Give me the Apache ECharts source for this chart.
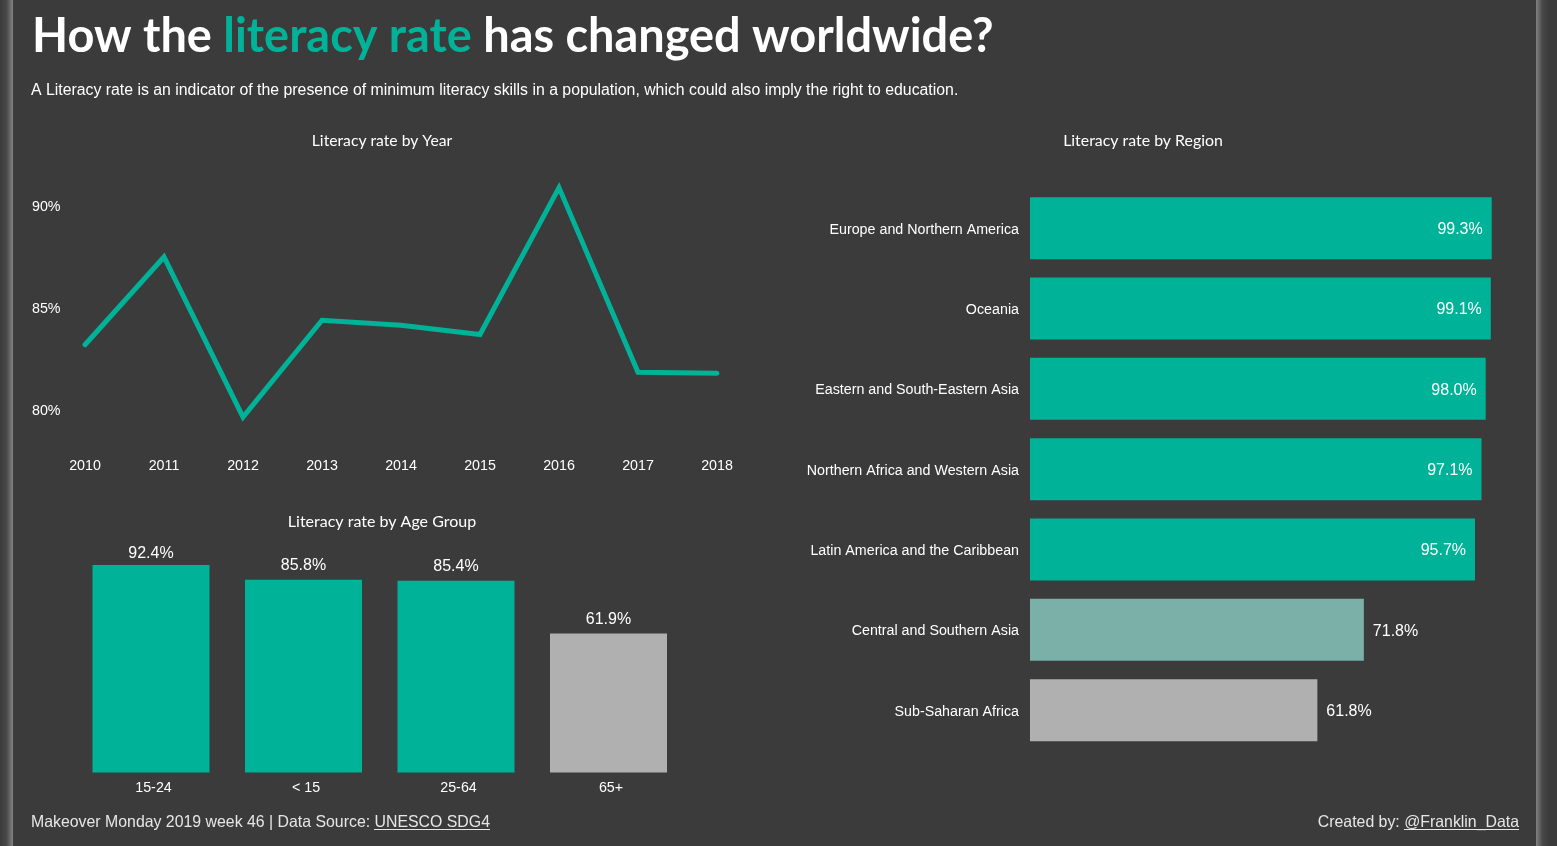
<!DOCTYPE html>
<html><head><meta charset="utf-8">
<style>html,body{margin:0;padding:0;background:#3b3b3b;overflow:hidden}#c{width:1557px;height:846px}</style>
<script src="https://cdn.jsdelivr.net/npm/echarts@6/dist/echarts.min.js"></script>
</head><body><div id="c"></div>
<script>
const years=['2010','2011','2012','2013','2014','2015','2016','2017','2018'];
const yearRates=[83.2,87.5,79.65,84.4,84.15,83.7,90.9,81.85,81.8];
const yearTicks=[80,85,90];
const ageGroups=['15-24','< 15','25-64','65+'];
const ageRates=[92.4,85.8,85.4,61.9];
const regions=['Europe and Northern America','Oceania','Eastern and South-Eastern Asia','Northern Africa and Western Asia','Latin America and the Caribbean','Central and Southern Asia','Sub-Saharan Africa'];
const regionRates=[99.3,99.1,98.0,97.1,95.7,71.8,61.8];
const TEAL='#00b398',GREY='#b0b0b0',MID='#7ab0a7';
const SANS='"Liberation Sans",Arial,sans-serif',HEAD='"Lato","Open Sans",sans-serif';
const ageColor=v=>v<70?GREY:TEAL;
const regionColor=v=>v<65?GREY:(v<80?MID:TEAL);
const edgeL={type:'rect',silent:true,shape:{x:0,y:0,width:13,height:846},style:{fill:new echarts.graphic.LinearGradient(0,0,1,0,[{offset:0,color:'#3b3b3b'},{offset:0.5,color:'#484848'},{offset:1,color:'#828282'}])}};
const edgeR={type:'rect',silent:true,shape:{x:1536,y:0,width:13,height:846},style:{fill:new echarts.graphic.LinearGradient(0,0,1,0,[{offset:0,color:'#828282'},{offset:0.5,color:'#484848'},{offset:1,color:'#3b3b3b'}])}};
const chart=echarts.init(document.getElementById('c'),null,{renderer:'canvas'});
const tt=(o)=>Object.assign({padding:0},o);
chart.setOption({
 animation:false,backgroundColor:'#3b3b3b',
 title:[
  tt({left:32,top:13,text:'{w|How the }{g|literacy rate}{w| has changed worldwide?}',textStyle:{rich:{w:{fontFamily:HEAD,fontWeight:700,fontSize:46.9,color:'#fff'},g:{fontFamily:HEAD,fontWeight:700,fontSize:46.9,color:TEAL}}}}),
  tt({left:31,top:83,text:'A Literacy rate is an indicator of the presence of minimum literacy skills in a population, which could also imply the right to education.',textStyle:{fontFamily:SANS,fontWeight:400,fontSize:15.83,color:'#fff'}}),
  tt({left:382,top:132.5,textAlign:'center',text:'Literacy rate by Year',textStyle:{fontFamily:HEAD,fontWeight:400,fontSize:15.7,color:'#fff'}}),
  tt({left:1143,top:132.5,textAlign:'center',text:'Literacy rate by Region',textStyle:{fontFamily:HEAD,fontWeight:400,fontSize:15.9,color:'#fff'}}),
  tt({left:382,top:513.5,textAlign:'center',text:'Literacy rate by Age Group',textStyle:{fontFamily:HEAD,fontWeight:400,fontSize:16,color:'#fff'}}),
  tt({left:31,top:815,text:'Makeover Monday 2019 week 46 | Data Source: UNESCO SDG4',textStyle:{fontFamily:SANS,fontWeight:400,fontSize:15.86,color:'#e6e6e6'}}),
  tt({right:38,top:815,text:'Created by: @Franklin_Data',textStyle:{fontFamily:SANS,fontWeight:400,fontSize:15.86,color:'#e6e6e6'}})
 ],
 grid:[
  {left:85,width:632,top:165.2,height:285.6},
  {left:74.75,width:610,top:772.4-207.4*100/92.4,height:207.4*100/92.4},
  {left:1030,width:465,top:188,height:562.3}
 ],
 xAxis:[
  {gridIndex:0,type:'category',boundaryGap:false,data:years,axisLine:{show:false},axisTick:{show:false},splitLine:{show:false},axisLabel:{color:'#fff',fontFamily:SANS,fontSize:14.27,margin:8}},
  {gridIndex:1,type:'category',data:ageGroups,axisLine:{show:false},axisTick:{show:false},axisLabel:{color:'#fff',fontFamily:SANS,fontSize:14.27,margin:8.6,padding:[0,0,0,5]}},
  {gridIndex:2,type:'value',min:0,max:100,show:false}
 ],
 yAxis:[
  {gridIndex:0,type:'value',min:78,max:92,splitLine:{show:false},axisLine:{show:false},axisTick:{show:false},axisLabel:{customValues:yearTicks,formatter:'{value}%',color:'#fff',fontFamily:SANS,fontSize:14.27,align:'left',verticalAlign:'bottom',margin:53,padding:[0,0,-8.5,0]}},
  {gridIndex:1,type:'value',min:0,max:100,show:false},
  {gridIndex:2,type:'category',inverse:true,data:regions,axisLine:{show:false},axisTick:{show:false},axisLabel:{color:'#fff',fontFamily:SANS,fontSize:14.27,verticalAlign:'bottom',margin:11,padding:[0,0,-8.5,0]}}
 ],
 series:[
  {type:'line',xAxisIndex:0,yAxisIndex:0,data:yearRates,symbol:'none',lineStyle:{color:TEAL,width:5,cap:'round',join:'miter'}},
  {type:'bar',xAxisIndex:1,yAxisIndex:1,barWidth:117,data:ageRates.map(v=>({value:v,itemStyle:{color:ageColor(v)},label:{distance:v>90?3:6}})),label:{show:true,position:'top',formatter:p=>p.value.toFixed(1)+'%',color:'#fff',fontFamily:SANS,fontSize:16}},
  {type:'bar',xAxisIndex:2,yAxisIndex:2,barWidth:62,data:regionRates.map(v=>({value:v,itemStyle:{color:regionColor(v)},label:{position:v>90?'insideRight':'right'}})),label:{show:true,distance:9,offset:[0,1.6],formatter:p=>p.value.toFixed(1)+'%',color:'#fff',fontFamily:SANS,fontSize:16}}
 ],
 graphic:[
  edgeL,edgeR,
  {type:'line',silent:true,shape:{x1:374,y1:829.5,x2:490,y2:829.5},style:{stroke:'#e6e6e6',lineWidth:1}},
  {type:'line',silent:true,shape:{x1:1404,y1:829.5,x2:1519,y2:829.5},style:{stroke:'#e6e6e6',lineWidth:1}}
 ]
});
</script></body></html>
